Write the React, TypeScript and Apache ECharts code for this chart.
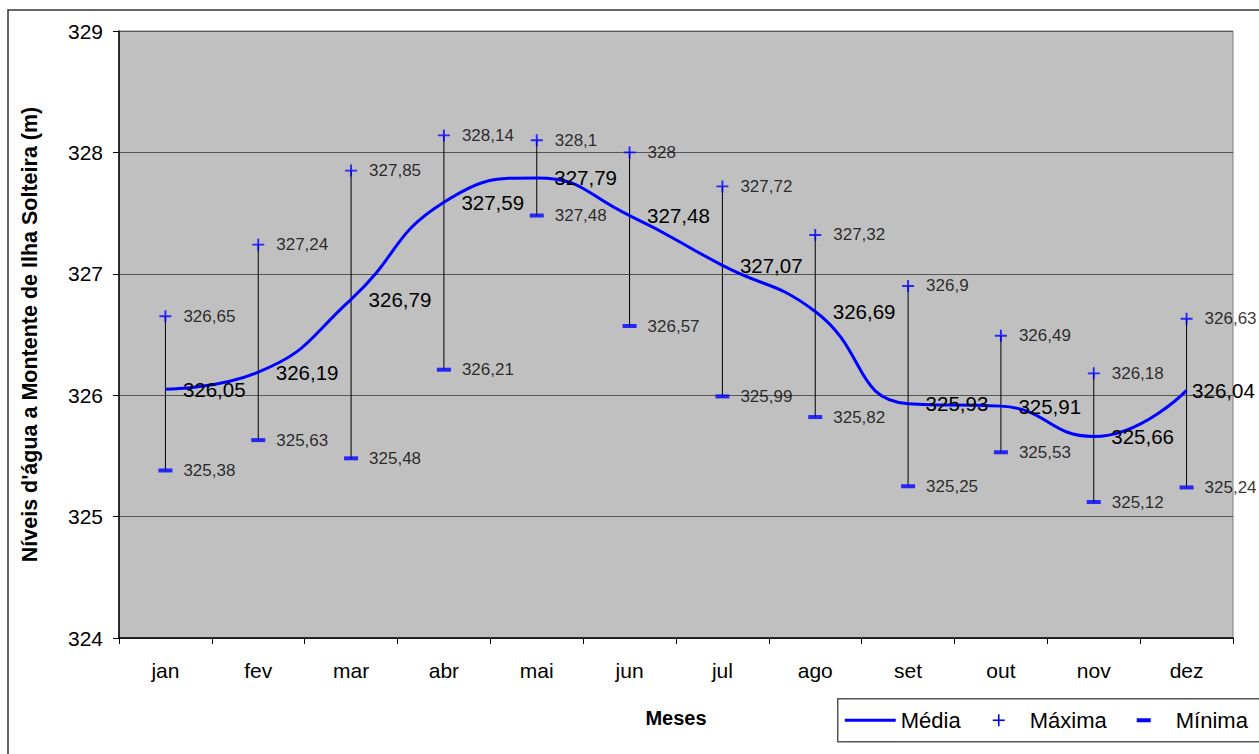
import React, { useEffect, useRef } from "react";
import * as echarts from "echarts";

// Monthly water levels upstream of Ilha Solteira (m)
const months = ["jan", "fev", "mar", "abr", "mai", "jun", "jul", "ago", "set", "out", "nov", "dez"];
const media = [326.05, 326.19, 326.79, 327.59, 327.79, 327.48, 327.07, 326.69, 325.93, 325.91, 325.66, 326.04];
const maxima = [326.65, 327.24, 327.85, 328.14, 328.1, 328, 327.72, 327.32, 326.9, 326.49, 326.18, 326.63];
const minima = [325.38, 325.63, 325.48, 326.21, 327.48, 326.57, 325.99, 325.82, 325.25, 325.53, 325.12, 325.24];

const FONT = "'Liberation Sans', Arial, sans-serif";
const BLUE = "#0000ff";

const fmt = (v: number) => String(v).replace(".", ",");

export default function App() {
  const ref = useRef<HTMLDivElement>(null);

  useEffect(() => {
    if (!ref.current) return;
    const chart = echarts.init(ref.current, undefined, { renderer: "svg" });

    const plusPath = "path://M4.2,0H5.8V4.2H10V5.8H5.8V10H4.2V5.8H0V4.2H4.2Z";
    const legendText = { fontFamily: FONT, fontSize: 22, fill: "#000", verticalAlign: "middle" };

    // the last mean label sits closer to its point so it stays inside the frame
    const mediaData = media.map((v, i) =>
      i === media.length - 1 ? { value: v, label: { distance: 5 } } : v
    );

    chart.setOption({
      animation: false,
      backgroundColor: "#ffffff",
      textStyle: { fontFamily: FONT },
      grid: {
        left: 119,
        top: 31,
        right: 26,
        bottom: 116,
        show: true,
        backgroundColor: "#c0c0c0",
        borderColor: "#808080",
        borderWidth: 1,
      },
      xAxis: {
        type: "category",
        data: months,
        boundaryGap: true,
        name: "Meses",
        nameLocation: "middle",
        nameGap: 70,
        nameTextStyle: { fontFamily: FONT, fontSize: 20, fontWeight: "bold", color: "#000" },
        axisLine: { lineStyle: { color: "#000", width: 1.5 } },
        axisTick: { show: true, inside: false, length: 6, lineStyle: { color: "#000" } },
        axisLabel: { fontFamily: FONT, fontSize: 21, color: "#000", margin: 22 },
        splitLine: { show: false },
      },
      yAxis: {
        type: "value",
        min: 324,
        max: 329,
        interval: 1,
        name: "Níveis d'água a Montente de Ilha Solteira (m)",
        nameLocation: "middle",
        nameGap: 78,
        nameRotate: 90,
        nameTextStyle: { fontFamily: FONT, fontSize: 21.5, fontWeight: "bold", color: "#000" },
        axisLine: { show: true, lineStyle: { color: "#000", width: 1.5 } },
        axisTick: { show: true, inside: false, length: 6, lineStyle: { color: "#000" } },
        axisLabel: { fontFamily: FONT, fontSize: 21, color: "#000", margin: 16 },
        splitLine: { show: true, lineStyle: { color: "#555555", width: 1 } },
      },
      series: [
        {
          // high-low lines between minimum and maximum
          name: "Faixa",
          type: "custom",
          data: months.map((_, i) => [i, minima[i], maxima[i]]),
          encode: { x: 0, y: [1, 2] },
          z: 1,
          renderItem: (params: any, api: any) => {
            const lo = api.coord([api.value(0), api.value(1)]);
            const hi = api.coord([api.value(0), api.value(2)]);
            return {
              type: "line",
              shape: { x1: lo[0], y1: lo[1], x2: hi[0], y2: hi[1] },
              style: { stroke: "#000", lineWidth: 1 },
            };
          },
        },
        {
          name: "Média",
          type: "line",
          data: mediaData,
          smooth: 0.5,
          symbol: "circle",
          symbolSize: 1,
          itemStyle: { color: "rgba(0,0,0,0)" },
          lineStyle: { color: BLUE, width: 3 },
          z: 3,
          label: {
            show: true,
            position: "right",
            distance: 17,
            fontFamily: FONT,
            fontSize: 20.5,
            color: "#000",
            formatter: (p: any) => fmt(p.value),
          },
        },
        {
          name: "Máxima",
          type: "scatter",
          data: maxima,
          symbol: plusPath,
          symbolSize: 12,
          itemStyle: { color: BLUE },
          z: 4,
          label: {
            show: true,
            position: "right",
            distance: 12,
            fontFamily: FONT,
            fontSize: 17,
            color: "#000",
            formatter: (p: any) => fmt(p.value),
          },
        },
        {
          name: "Mínima",
          type: "scatter",
          data: minima,
          symbol: "rect",
          symbolSize: [14, 4],
          itemStyle: { color: BLUE },
          z: 4,
          label: {
            show: true,
            position: "right",
            distance: 11,
            fontFamily: FONT,
            fontSize: 17,
            color: "#000",
            formatter: (p: any) => fmt(p.value),
          },
        },
      ],
      graphic: [
        // outer chart frame
        {
          type: "rect",
          shape: { x: 8, y: 10, width: 1270, height: 770 },
          style: { fill: "none", stroke: "#333", lineWidth: 1.5 },
          silent: true,
          z: -1,
        },
        // legend box
        {
          type: "group",
          left: 837,
          top: 698,
          children: [
            {
              type: "rect",
              shape: { x: 0, y: 0, width: 430, height: 43 },
              style: { fill: "#fff", stroke: "#555", lineWidth: 1.5 },
            },
            {
              type: "line",
              shape: { x1: 7, y1: 21.5, x2: 58, y2: 21.5 },
              style: { stroke: BLUE, lineWidth: 3 },
            },
            { type: "text", x: 63, y: 22, style: { ...legendText, text: "Média" } },
            {
              type: "rect",
              shape: { x: 155, y: 20.7, width: 12, height: 1.6 },
              style: { fill: BLUE },
            },
            {
              type: "rect",
              shape: { x: 160.2, y: 15.5, width: 1.6, height: 12 },
              style: { fill: BLUE },
            },
            { type: "text", x: 192, y: 22, style: { ...legendText, text: "Máxima" } },
            {
              type: "rect",
              shape: { x: 299, y: 19.5, width: 14, height: 4 },
              style: { fill: BLUE },
            },
            { type: "text", x: 338, y: 22, style: { ...legendText, text: "Mínima" } },
          ],
        },
      ],
    });

    return () => chart.dispose();
  }, []);

  return (
    <div
      ref={ref}
      style={{ position: "absolute", left: 0, top: 0, width: 1259, height: 754 }}
    />
  );
}
